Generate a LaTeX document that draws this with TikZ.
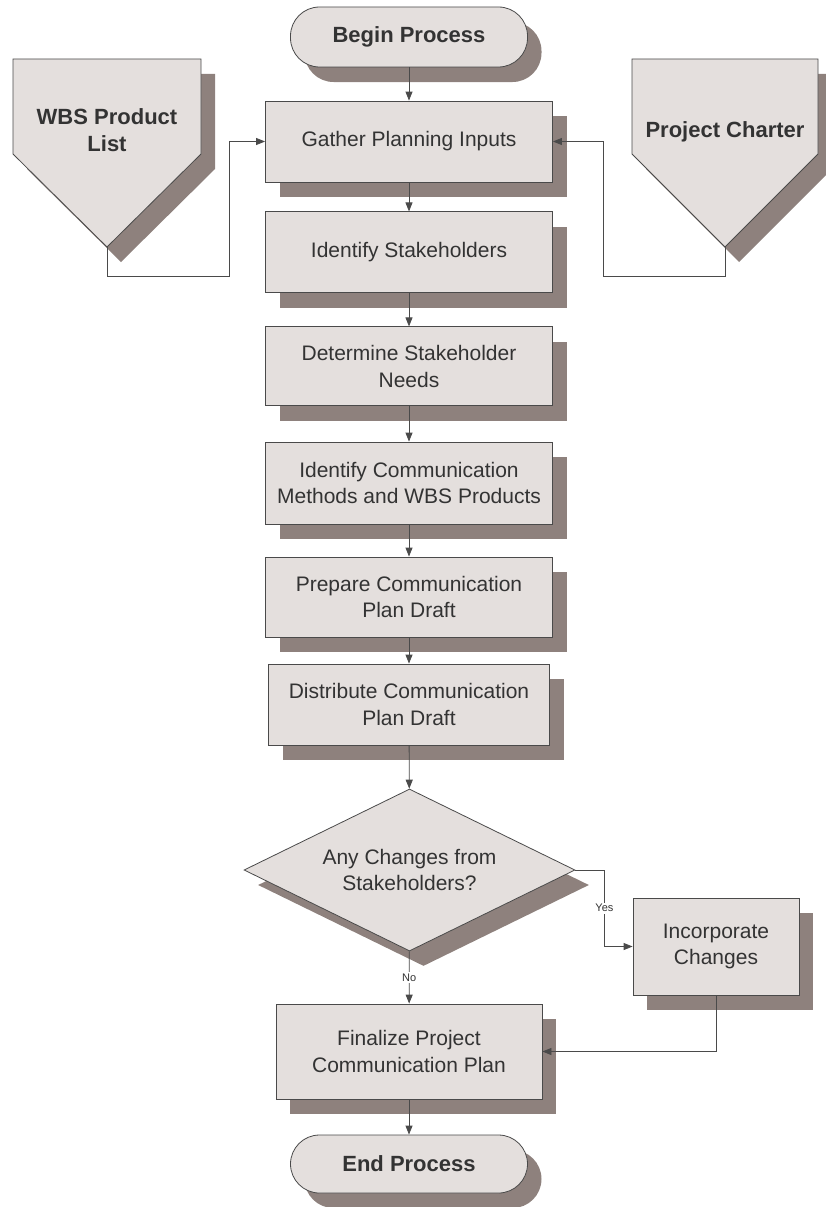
\documentclass[tikz,border=0pt]{standalone}
\usepackage{fontspec}
\setmainfont{Liberation Sans}
\usetikzlibrary{shapes.geometric, shadows, arrows.meta}

\definecolor{boxfill}{HTML}{E4DFDD}
\definecolor{boxshade}{HTML}{8E817D}
\definecolor{boxline}{HTML}{4A4A4A}
\definecolor{inkgray}{HTML}{333333}

\begin{document}
\begin{tikzpicture}[x=1pt, y=-1pt,
    boxshadow/.style={drop shadow={shadow xshift=14pt, shadow yshift=-15pt, fill=boxshade, opacity=1}},
    procbox/.style={draw=boxline, line width=0.8pt, fill=boxfill, boxshadow, rectangle, align=center,
      text=inkgray, minimum width=287pt, minimum height=81pt, inner sep=2pt,
      font=\fontsize{21}{26.5}\selectfont},
    terminal/.style={draw=boxline, line width=0.8pt, fill=boxfill, boxshadow, rectangle, rounded corners=29pt,
      minimum width=237pt, minimum height=60pt, text=inkgray, font=\bfseries\fontsize{22}{26}\selectfont},
    decision/.style={draw=boxline, line width=0.8pt, fill=boxfill, boxshadow, diamond, aspect=2.04, align=center,
      minimum width=331pt, minimum height=162pt, inner sep=0pt, text=inkgray,
      font=\fontsize{21}{26.5}\selectfont},
    offpage/.style={draw=boxline, line width=0.8pt, fill=boxfill, boxshadow},
    offlabel/.style={align=center, text=inkgray, font=\bfseries\fontsize{22}{27}\selectfont},
    flow/.style={draw=boxline, line width=0.8pt, -{Triangle[length=9pt, width=7pt]}},
    tag/.style={fill=white, inner sep=1.5pt, text=inkgray, font=\fontsize{11}{13}\selectfont}]

    \useasboundingbox (0,0) rectangle (825,1207);

    % inputs on both sides
    \draw[offpage] (13,59) -- (201,59) -- (201,154) -- (107,247) -- (13,154) -- cycle;
    \node[offlabel] (wbs) at (107,130) {WBS Product\\List};
    \coordinate (wbs tip) at (107,247);
    \coordinate (wbs bend) at (229,276);

    \draw[offpage] (632,59) -- (818,59) -- (818,154) -- (725,247) -- (632,154) -- cycle;
    \node[offlabel] (charter) at (725,131.5) {Project Charter};
    \coordinate (charter tip) at (725,247);
    \coordinate (charter bend) at (603,276);

    % main column
    \node[terminal] (begin) at (409,37) {Begin Process};
    \node[procbox] (gather) at (409,141.5) {Gather Planning Inputs};
    \node[procbox] (stake) at (409,252.3) {Identify Stakeholders};
    \node[procbox, minimum height=79pt] (needs) at (409,366.3) {Determine Stakeholder\\Needs};
    \node[procbox, minimum height=82pt] (methods) at (409,483) {Identify Communication\\Methods and WBS Products};
    \node[procbox, minimum height=80pt] (prepare) at (409,597) {Prepare Communication\\Plan Draft};
    \node[procbox, minimum width=281pt] (distrib) at (409,704.5) {Distribute Communication\\Plan Draft};
    \node[decision] (changes) at (409.5,870) {Any Changes from\\Stakeholders?};
    \node[procbox, minimum width=166pt, minimum height=97pt] (incorp) at (716,946.5) {Incorporate\\Changes};
    \node[procbox, minimum width=266pt, minimum height=95pt] (final) at (409,1051.5) {Finalize Project\\Communication Plan};
    \node[terminal, minimum height=58pt] (end) at (409,1164) {End Process};

    \path (begin) edge[flow] (gather);
    \path (gather) edge[flow] (stake);
    \path (stake) edge[flow] (needs);
    \path (needs) edge[flow] (methods);
    \path (methods) edge[flow] (prepare);
    \path (prepare) edge[flow] (distrib);
    \path (distrib) edge[flow] (changes);
    \path (changes) edge[flow] node[tag] {No} (final);
    \path (final) edge[flow] (end);

    \draw[flow] (wbs tip) |- (wbs bend) |- (gather.west);
    \draw[flow] (charter tip) |- (charter bend) |- (gather.east);
    \draw[flow] (changes.east) -- ++(29,0) |- node[tag, pos=0.25] {Yes} (incorp.west);
    \draw[flow] (incorp.south) |- (final.east);
\end{tikzpicture}
\end{document}
